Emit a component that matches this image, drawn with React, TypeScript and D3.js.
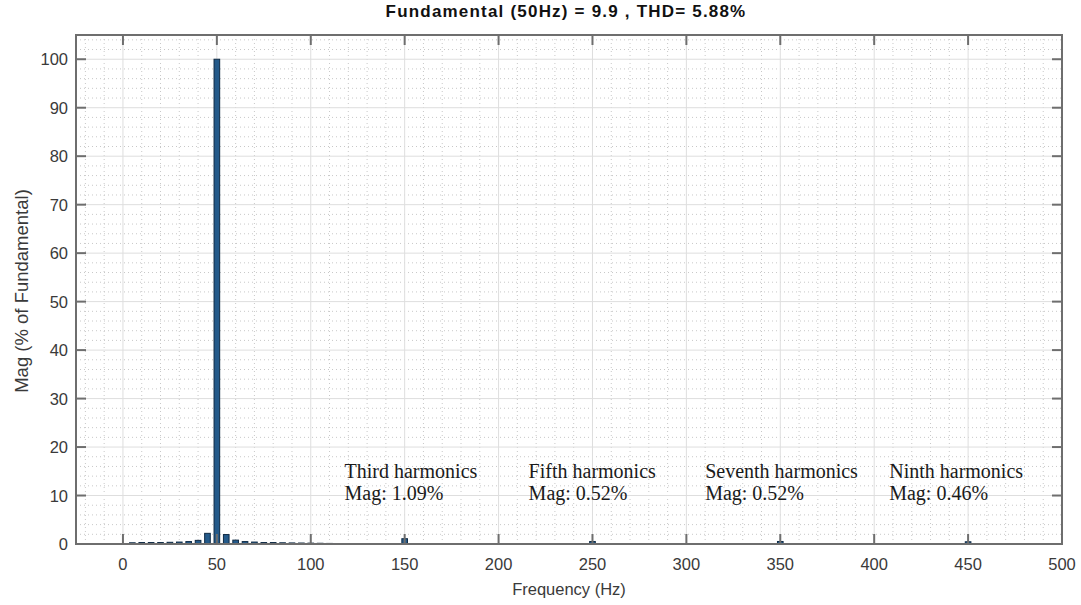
import React from "react";
import * as d3 from "d3";

// Harmonic spectrum of the measured signal (percent of the 50 Hz fundamental)
const freqs = [
  5, 10, 15, 20, 25, 30, 35, 40, 45, 50, 55, 60, 65, 70, 75, 80, 85, 90, 95, 100,
  105, 110, 115, 120, 125, 130, 135, 140, 145, 150, 250, 350, 450,
];
const mags = [
  0.25, 0.3, 0.3, 0.3, 0.35, 0.4, 0.5, 0.75, 2.2, 100, 1.95, 0.8, 0.5, 0.4, 0.3, 0.3, 0.25, 0.22, 0.2, 0.18,
  0.15, 0.12, 0.1, 0.1, 0.1, 0.08, 0.08, 0.08, 0.08, 1.09, 0.52, 0.52, 0.46,
];

const xTicks = [0, 50, 100, 150, 200, 250, 300, 350, 400, 450, 500];
const yTicks = [0, 10, 20, 30, 40, 50, 60, 70, 80, 90, 100];

const annotations = [
  { name: "Third harmonics", mag: "Mag: 1.09%", at: 118 },
  { name: "Fifth harmonics", mag: "Mag: 0.52%", at: 216 },
  { name: "Seventh harmonics", mag: "Mag: 0.52%", at: 310 },
  { name: "Ninth harmonics", mag: "Mag: 0.46%", at: 408 },
];

const titleText = "Fundamental (50Hz) = 9.9 , THD= 5.88%";

const W = 1081;
const H = 605;
const plot = { left: 76, right: 1062, top: 35, bottom: 544 };

export default function App() {
  const x = d3.scaleLinear().domain([-25, 500]).range([plot.left, plot.right]);
  const y = d3.scaleLinear().domain([0, 105]).range([plot.bottom, plot.top]);

  const xMinor = d3.range(-20, 501, 10).filter((v) => v % 50 !== 0);
  const yMinor = d3.range(0, 105.01, 2).filter((v) => v % 10 !== 0);

  const barW = x(3) - x(0);
  const tickLen = 10;
  const axisColor = "#6e6e6e";
  const textColor = "#3a3a3a";

  return (
    <svg width={W} height={H} style={{ position: "absolute", left: 0, top: 0, background: "#fff" }}>
      {/* minor grid */}
      <g stroke="#c8c8c8" strokeWidth={1} strokeDasharray="1,3">
        {xMinor.map((v) => (
          <line key={"xm" + v} x1={x(v)} x2={x(v)} y1={plot.top} y2={plot.bottom} />
        ))}
        {yMinor.map((v) => (
          <line key={"ym" + v} x1={plot.left} x2={plot.right} y1={y(v)} y2={y(v)} />
        ))}
      </g>
      {/* major grid */}
      <g stroke="#dedede" strokeWidth={1}>
        {xTicks.map((v) => (
          <line key={"xg" + v} x1={x(v)} x2={x(v)} y1={plot.top} y2={plot.bottom} />
        ))}
        {yTicks.map((v) => (
          <line key={"yg" + v} x1={plot.left} x2={plot.right} y1={y(v)} y2={y(v)} />
        ))}
      </g>

      {/* bars */}
      <g fill="#245a8a" stroke="#0f2a44" strokeWidth={1}>
        {freqs.map((f, i) => (
          <rect
            key={"b" + f}
            x={x(f) - barW / 2}
            y={y(mags[i])}
            width={barW}
            height={Math.max(0, y(0) - y(mags[i]))}
          />
        ))}
      </g>

      {/* axes box and ticks */}
      <rect
        x={plot.left}
        y={plot.top}
        width={plot.right - plot.left}
        height={plot.bottom - plot.top}
        fill="none"
        stroke={axisColor}
        strokeWidth={2}
      />
      <g stroke={axisColor} strokeWidth={2}>
        {xTicks.map((v) => (
          <g key={"xt" + v}>
            <line x1={x(v)} x2={x(v)} y1={plot.bottom} y2={plot.bottom - tickLen} />
            <line x1={x(v)} x2={x(v)} y1={plot.top} y2={plot.top + tickLen} />
          </g>
        ))}
        {yTicks.map((v) => (
          <g key={"yt" + v}>
            <line x1={plot.left} x2={plot.left + tickLen} y1={y(v)} y2={y(v)} />
            <line x1={plot.right} x2={plot.right - tickLen} y1={y(v)} y2={y(v)} />
          </g>
        ))}
      </g>

      {/* tick labels */}
      <g fontFamily="'Liberation Sans', Arial, sans-serif" fontSize={16.5} fill={textColor}>
        {xTicks.map((v) => (
          <text key={"xl" + v} x={x(v)} y={plot.bottom + 26} textAnchor="middle">
            {v}
          </text>
        ))}
        {yTicks.map((v) => (
          <text key={"yl" + v} x={plot.left - 8} y={y(v) + 6} textAnchor="end">
            {v}
          </text>
        ))}
      </g>

      {/* axis titles */}
      <text
        x={(plot.left + plot.right) / 2}
        y={595}
        textAnchor="middle"
        fontFamily="'Liberation Sans', Arial, sans-serif"
        fontSize={16.5}
        fill={textColor}
      >
        Frequency (Hz)
      </text>
      <text
        transform={`translate(28, 291) rotate(-90)`}
        textAnchor="middle"
        fontFamily="'Liberation Sans', Arial, sans-serif"
        fontSize={18.5}
        fill={textColor}
      >
        Mag (% of Fundamental)
      </text>

      {/* title */}
      <text
        x={566}
        y={17}
        textAnchor="middle"
        fontFamily="'Liberation Sans', Arial, sans-serif"
        fontWeight="bold"
        fontSize={17}
        letterSpacing={1.2}
        fill="#111"
      >
        {titleText}
      </text>

      {/* harmonic annotations */}
      <g fontFamily="'Liberation Serif', 'Times New Roman', serif" fontSize={20} fill="#1a1a1a">
        {annotations.map((a) => (
          <g key={a.name}>
            <text x={x(a.at)} y={478}>
              {a.name}
            </text>
            <text x={x(a.at)} y={500}>
              {a.mag}
            </text>
          </g>
        ))}
      </g>
    </svg>
  );
}
